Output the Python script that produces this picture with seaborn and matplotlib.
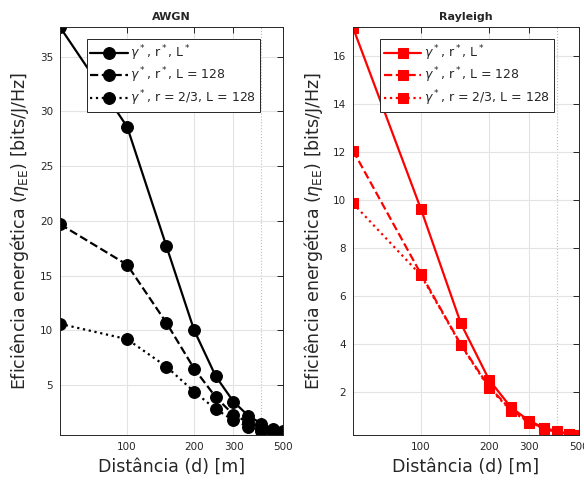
import matplotlib
matplotlib.use("Agg")
import matplotlib.pyplot as plt
import seaborn as sns
from matplotlib.ticker import FixedLocator, NullLocator, FixedFormatter

# ==========================================
# DATA
# ==========================================
distance = [50, 100, 150, 200, 250, 300, 350, 400, 450, 500]

# AWGN channel
awgn_opt = [37.7, 28.6, 17.7, 10.0, 5.8, 3.5, 2.2, 1.5, 1.0, 0.8]
awgn_L128 = [19.7, 16.0, 10.7, 6.5, 3.9, 2.3, 1.6, 1.1, 0.8, 0.6]
awgn_r23 = [10.6, 9.2, 6.7, 4.4, 2.8, 1.8, 1.2, 0.8, 0.6, 0.45]

# Rayleigh channel
ray_opt = [17.17, 9.6, 4.85, 2.5, 1.35, 0.8, 0.5, 0.35, 0.26, 0.2]
ray_L128 = [12.05, 6.9, 3.97, 2.2, 1.26, 0.75, 0.48, 0.33, 0.25, 0.2]
ray_r23 = [9.85, 6.85, 3.95, 2.15, 1.22, 0.72, 0.46, 0.32, 0.24, 0.19]

labels = [
    r"$\gamma^*$, r$^*$, L$^*$",
    r"$\gamma^*$, r$^*$, L = 128",
    r"$\gamma^*$, r = 2/3, L = 128",
]
styles = ["-", "--", ":"]

x_ticks = [100, 200, 300, 500]
awgn_yticks = [5, 10, 15, 20, 25, 30, 35]
ray_yticks = [2, 4, 6, 8, 10, 12, 14, 16]

# ==========================================
# STYLE
# ==========================================
sns.set_style("white")
plt.rcParams["font.family"] = ["DejaVu Sans"]
plt.rcParams["mathtext.fontset"] = "dejavusans"

fig = plt.figure(figsize=(5.84, 4.84), dpi=100)
ax1 = fig.add_axes([0.1027, 0.1012, 0.3818, 0.843])
ax2 = fig.add_axes([0.6045, 0.1012, 0.387, 0.843])

panels = [
    (ax1, "AWGN", [awgn_opt, awgn_L128, awgn_r23], "black", "o", 8.5,
     (0.45, 37.7), awgn_yticks),
    (ax2, "Rayleigh", [ray_opt, ray_L128, ray_r23], "red", "s", 7,
     (0.2, 17.2), ray_yticks),
]

axis_col = "#262626"

for ax, title, series, color, marker, msize, ylim, yticks in panels:
    for vals, ls, lab in zip(series, styles, labels):
        sns.lineplot(
            x=distance, y=vals, ax=ax, color=color, linestyle=ls,
            marker=marker, markersize=msize, markeredgecolor=color,
            linewidth=1.6, label=lab,
        )

    ax.set_xscale("log")
    ax.set_xlim(50, 500)
    ax.set_ylim(*ylim)
    ax.xaxis.set_major_locator(FixedLocator(x_ticks))
    ax.xaxis.set_major_formatter(FixedFormatter([str(t) for t in x_ticks]))
    ax.xaxis.set_minor_locator(NullLocator())
    ax.set_yticks(yticks)

    # grid like MATLAB
    ax.grid(True, which="major", color="#e3e3e3", linewidth=0.8)
    ax.axvline(400, color="#bdbdbd", linestyle=":", linewidth=0.8, zorder=0)
    ax.set_axisbelow(True)

    for sp in ax.spines.values():
        sp.set_visible(True)
        sp.set_color(axis_col)
        sp.set_linewidth(0.7)
    ax.tick_params(direction="in", top=True, right=True, length=4,
                   width=0.7, colors=axis_col, labelsize=7.5, pad=5)

    ax.set_title(title, fontsize=8, fontweight="bold", pad=5)
    ax.set_xlabel("Distância (d) [m]", fontsize=12.5, color=axis_col, labelpad=4)
    ax.set_ylabel(r"Eficiência energética ($\eta_{\mathrm{EE}}$) [bits/J/Hz]",
                  fontsize=12.5, color=axis_col, labelpad=6)

    leg = ax.legend(
        loc="upper left", bbox_to_anchor=(0.12, 0.97), fontsize=9,
        frameon=True, fancybox=False, edgecolor=axis_col, framealpha=1,
        handlelength=3.0, handletextpad=0.2, borderpad=0.3, labelspacing=0.25,
        borderaxespad=0,
    )
    leg.get_frame().set_linewidth(0.7)

fig.savefig("out.png", dpi=100)
